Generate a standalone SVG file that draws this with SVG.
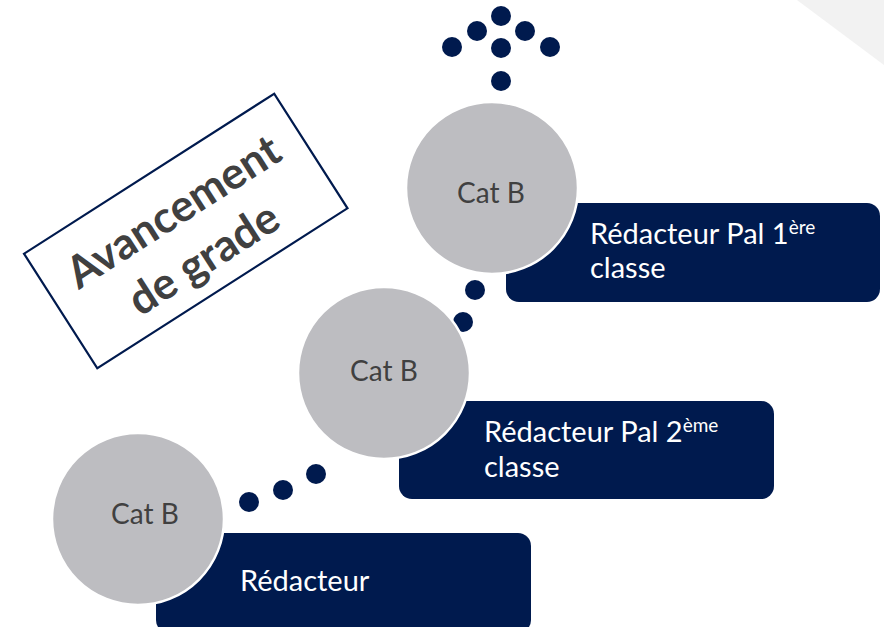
<svg xmlns="http://www.w3.org/2000/svg" width="884" height="627" viewBox="0 0 884 627">
<style>
.dot{fill:#001A4E}
.bar{fill:#001A4E}
.circ{fill:#BDBDC1;stroke:#FFFFFF;stroke-width:2.5}
.cat{font-family:Lato,"Open Sans",sans-serif;font-size:28px;fill:#404040}
.lbl{font-family:Lato,"Open Sans",sans-serif;font-size:29px;fill:#FFFFFF}
.sup{font-size:19px}
.title{font-family:Lato,"Open Sans",sans-serif;font-weight:bold;font-size:44px;fill:#404040;text-anchor:middle}
</style>
<rect width="884" height="627" fill="#FFFFFF"/>
<polygon points="797,0 884,0 884,65" fill="#F2F2F2"/>
<g id="title">
<g transform="translate(185.75,231) rotate(-32.6)">
<rect x="-148.5" y="-68" width="297" height="136" fill="#FFFFFF" stroke="#001A4E" stroke-width="2.2"/>
<text class="title" x="0" y="-8">Avancement</text>
<text class="title" x="0" y="48">de grade</text>
</g>
</g>
<g id="connectors">
<circle class="dot" cx="249" cy="502" r="10"/>
<circle class="dot" cx="283" cy="490" r="10"/>
<circle class="dot" cx="316" cy="474" r="10"/>
<circle class="dot" cx="475" cy="290" r="10"/>
<circle class="dot" cx="463" cy="322" r="10"/>
<circle class="dot" cx="501" cy="81" r="10"/>
<circle class="dot" cx="501" cy="48" r="10"/>
<circle class="dot" cx="501" cy="16" r="10"/>
<circle class="dot" cx="477" cy="31" r="10"/>
<circle class="dot" cx="525" cy="31" r="10"/>
<circle class="dot" cx="452" cy="47" r="10"/>
<circle class="dot" cx="550" cy="47" r="10"/>
</g>
<g id="step1">
<rect class="bar" x="156" y="533" width="375" height="100" rx="13"/>
<text class="lbl" x="240" y="591">Rédacteur</text>
<circle class="circ" cx="138" cy="519" r="86"/>
<text class="cat" x="111" y="524">Cat B</text>
</g>
<g id="step2">
<rect class="bar" x="399" y="401" width="375" height="98" rx="13"/>
<text class="lbl" x="484" y="442">Rédacteur Pal 2<tspan class="sup" dy="-10">ème</tspan></text>
<text class="lbl" x="484" y="477">classe</text>
<circle class="circ" cx="384" cy="373" r="86"/>
<text class="cat" x="350" y="381">Cat B</text>
</g>
<g id="step3">
<rect class="bar" x="506" y="203" width="374" height="99" rx="13"/>
<text class="lbl" x="590" y="244">Rédacteur Pal 1<tspan class="sup" dy="-10">ère</tspan></text>
<text class="lbl" x="590" y="278">classe</text>
<circle class="circ" cx="492" cy="188" r="86"/>
<text class="cat" x="457" y="203">Cat B</text>
</g>
</svg>
